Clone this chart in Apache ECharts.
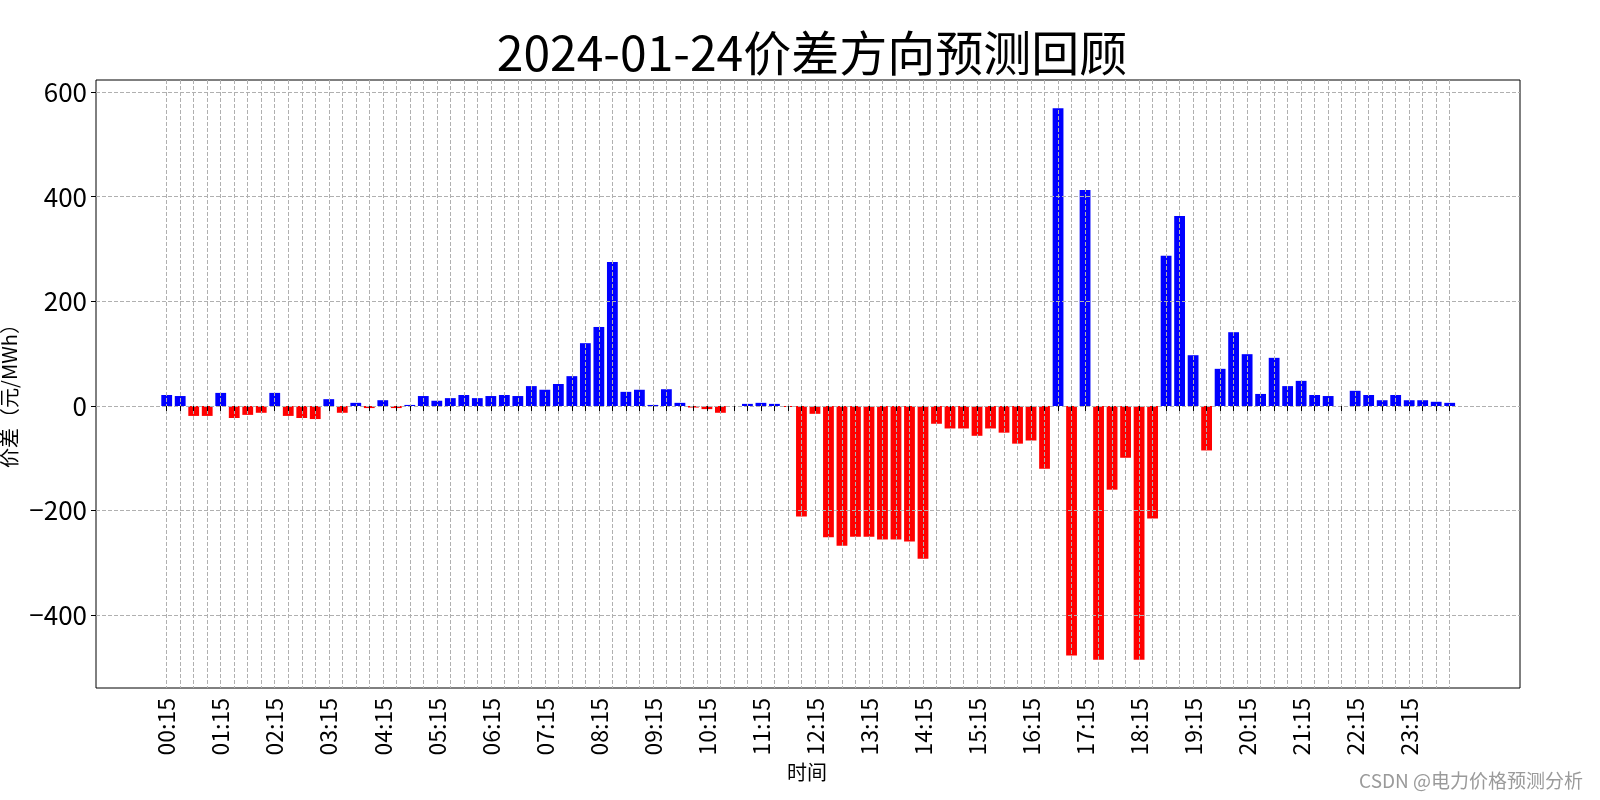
<!DOCTYPE html>
<html>
<head>
<meta charset="utf-8">
<script src="https://cdn.jsdelivr.net/npm/echarts@6/dist/echarts.min.js"></script>
<style>
html,body{margin:0;padding:0;background:#fff;}
#chart{width:1600px;height:800px;}
</style>
</head>
<body>
<div id="chart"></div>
<script>
const titleText = '2024-01-24价差方向预测回顾';
const xAxisName = '时间';
const yAxisName = '价差（元/MWh）';
const watermark = 'CSDN @电力价格预测分析';

const categories = [
 '00:15','00:30','00:45','01:00','01:15','01:30','01:45','02:00',
 '02:15','02:30','02:45','03:00','03:15','03:30','03:45','04:00',
 '04:15','04:30','04:45','05:00','05:15','05:30','05:45','06:00',
 '06:15','06:30','06:45','07:00','07:15','07:30','07:45','08:00',
 '08:15','08:30','08:45','09:00','09:15','09:30','09:45','10:00',
 '10:15','10:30','10:45','11:00','11:15','11:30','11:45','12:00',
 '12:15','12:30','12:45','13:00','13:15','13:30','13:45','14:00',
 '14:15','14:30','14:45','15:00','15:15','15:30','15:45','16:00',
 '16:15','16:30','16:45','17:00','17:15','17:30','17:45','18:00',
 '18:15','18:30','18:45','19:00','19:15','19:30','19:45','20:00',
 '20:15','20:30','20:45','21:00','21:15','21:30','21:45','22:00',
 '22:15','22:30','22:45','23:00','23:15','23:30','23:45','24:00'
];

const priceDiff = [
  21, 19, -19, -19, 25, -23, -17, -13, 25, -19, -23, -25, 13, -13, 6, -4,
  11, -4, 2, 19, 10, 15, 21, 15, 19, 21, 19, 38, 31, 42, 57, 120,
  151, 275, 27, 31, 2, 32, 6, -3, -6, -13, 0, 4, 6, 4, -2, -211,
  -15, -251, -267, -250, -250, -255, -255, -259, -292, -34, -43, -43, -57, -43,
  -51, -72, -66, -120, 569, -477, 413, -485, -160, -99, -485, -215, 287, 363, 97, -85,
  71, 141, 99, 23, 92, 38, 48, 21, 19, 0, 29, 21, 11, 21, 11, 11, 8, 6
];

const yMin = -539;
const yMax = 623;

const POS_COLOR = '#0000ff';
const NEG_COLOR = '#ff0000';
const FONT = '"Noto Sans CJK SC", "Noto Sans", sans-serif';
const GRID_LINE = { color: '#b0b0b0', width: 1, type: [4, 2] };

const chart = echarts.init(document.getElementById('chart'), null, { renderer: 'canvas' });

const barData = priceDiff.map(v => ({
  value: v,
  itemStyle: { color: v >= 0 ? POS_COLOR : NEG_COLOR }
}));

const option = {
  backgroundColor: '#ffffff',
  animation: false,
  title: {
    text: titleText,
    left: 807,
    top: 24,
    textAlign: 'center',
    textStyle: { fontFamily: FONT, fontSize: 48, fontWeight: 'normal', color: '#000' }
  },
  grid: [
    { left: 96, right: 80, top: 80, bottom: 112, show: true, borderColor: '#000', borderWidth: 1, backgroundColor: 'transparent' },
    { left: 166.7, right: 150.3, top: 80, bottom: 112 }
  ],
  xAxis: [
    { gridIndex: 0, type: 'value', show: false, min: 0, max: 1 },
    {
      gridIndex: 1,
      type: 'category',
      data: categories,
      boundaryGap: false,
      z: 10,
      axisLine: { show: false },
      axisTick: { show: true, interval: 0, length: 5, inside: false, lineStyle: { color: '#000', width: 1 } },
      axisLabel: { interval: 3, rotate: 90, fontSize: 23, fontFamily: FONT, color: '#000', margin: 10 },
      splitLine: { show: true, interval: 0, lineStyle: GRID_LINE }
    }
  ],
  yAxis: [
    {
      gridIndex: 0,
      type: 'value',
      min: yMin,
      max: yMax,
      z: 10,
      axisLine: { show: false },
      axisTick: { show: true, length: 5, inside: false, lineStyle: { color: '#000', width: 1 } },
      axisLabel: {
        fontSize: 26, fontFamily: FONT, color: '#000', margin: 9,
        showMinLabel: false, showMaxLabel: false,
        formatter: v => String(v).replace('-', '\u2212')
      },
      splitLine: { show: true, showMinLine: false, showMaxLine: false, lineStyle: GRID_LINE }
    },
    { gridIndex: 1, type: 'value', min: yMin, max: yMax, show: false }
  ],
  series: [
    {
      type: 'bar',
      xAxisIndex: 1,
      yAxisIndex: 1,
      data: barData,
      barWidth: '80%',
      clip: false,
      z: 2
    }
  ],
  graphic: [
    {
      type: 'text',
      x: 807, y: 772,
      style: { text: xAxisName, font: '20px ' + FONT, fill: '#000', textAlign: 'center', textVerticalAlign: 'middle' }
    },
    {
      type: 'text',
      x: 9, y: 391,
      rotation: Math.PI / 2,
      style: { text: yAxisName, font: '20px ' + FONT, fill: '#000', textAlign: 'center', textVerticalAlign: 'middle' }
    },
    {
      type: 'text',
      x: 1583, y: 781,
      style: { text: watermark, font: '19px ' + FONT, fill: '#9a9a9a', textAlign: 'right', textVerticalAlign: 'middle' }
    }
  ]
};

chart.setOption(option);
</script>
</body>
</html>
